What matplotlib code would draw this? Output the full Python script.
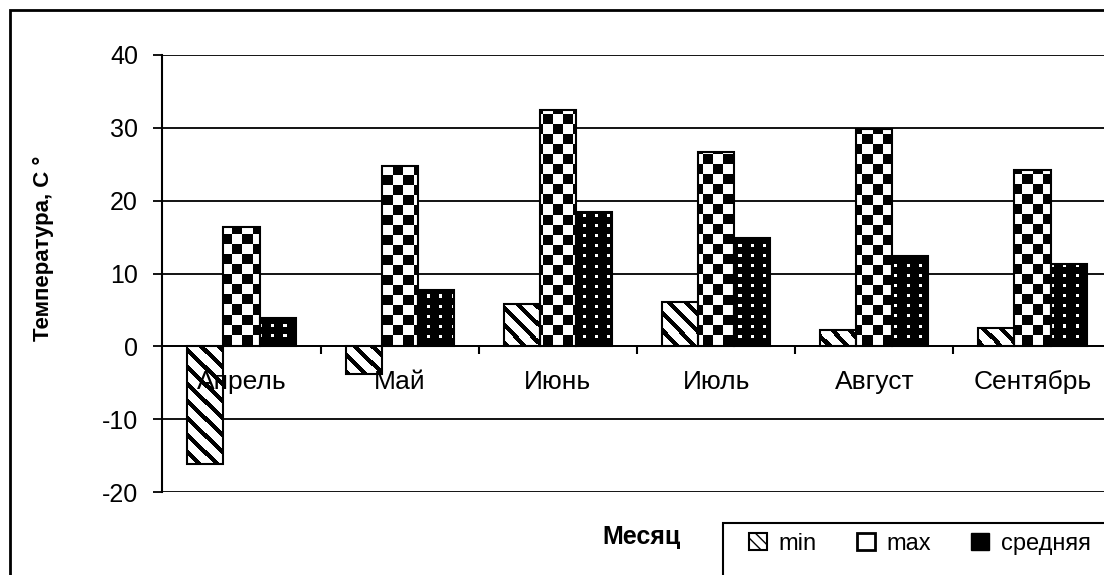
import numpy as np
import matplotlib
matplotlib.use("Agg")
import matplotlib.pyplot as plt
from matplotlib.patches import Patch, Rectangle

months = ["Апрель", "Май", "Июнь", "Июль", "Август", "Сентябрь"]
t_min = [-16.1, -3.8, 5.8, 6.1, 2.3, 2.5]
t_max = [16.4, 24.7, 32.5, 26.7, 29.9, 24.2]
t_avg = [3.9, 7.8, 18.5, 14.9, 12.4, 11.3]
series_names = ["min", "max", "средняя"]
yticks = [-20, -10, 0, 10, 20, 30, 40]

plt.rcParams["font.family"] = ["Liberation Sans", "DejaVu Sans"]
plt.rcParams["axes.unicode_minus"] = False

W, H, DPI = 1104, 575, 100
fig = plt.figure(figsize=(W / DPI, H / DPI), dpi=DPI)
ax_l, ax_b, ax_w, ax_h = 162.4 / W, 1 - 492 / H, 949.2 / W, 437 / H
ax = fig.add_axes([ax_l, ax_b, ax_w, ax_h])


def texture(kind, h, w):
    # black/white fill patterns like the old excel bar fills
    r, c = np.indices((h, w))
    if kind == "diag":
        black = ((c - r) % 17) < 6
    elif kind == "check":
        black = ((r // 10 + c // 10) % 2) == 0
    else:
        black = ~(((r % 10) < 3) & ((c % 12) < 3))
    return np.where(black, 0.0, 1.0)


tex_h, tex_w = int(ax_h * H), int(ax_w * W)
kinds = ["diag", "check", "dots"]
x = np.arange(len(months))
bw = 0.228

for i, vals in enumerate([t_min, t_max, t_avg]):
    bars = ax.bar(x + (i - 1) * bw, vals, bw, facecolor="none",
                  edgecolor="black", linewidth=1.5, zorder=3)
    tex = texture(kinds[i], tex_h, tex_w)
    for rect in bars:
        im = ax.imshow(tex, extent=(0, 1, 0, 1), transform=ax.transAxes,
                       cmap="gray", vmin=0, vmax=1, interpolation="nearest",
                       aspect="auto", zorder=2)
        im.set_clip_path(rect)

ax.set_xlim(-0.5, len(months) - 0.5)
ax.set_ylim(-20, 40)
ax.set_yticks(yticks)
ax.set_xticks(x)
ax.set_xticklabels(months)
ax.set_xticks(np.arange(0.5, len(months), 1), minor=True)

ax.set_axisbelow(True)
ax.yaxis.grid(True, color="black", linewidth=1.3)
ax.xaxis.set_zorder(5)

for s in ["top", "right"]:
    ax.spines[s].set_visible(False)
ax.spines["bottom"].set_position(("data", 0))
ax.spines["bottom"].set_linewidth(1.3)
ax.spines["left"].set_linewidth(1.5)

ax.tick_params(axis="x", which="major", length=0, pad=17, labelsize=19)
ax.tick_params(axis="x", which="minor", length=6, width=1.5, direction="out")
ax.tick_params(axis="y", length=6.5, width=1.3, direction="out", pad=11,
               labelsize=18)

fig.text(43 / W, 1 - 248 / H, "Температура, С °", rotation=90, fontsize=16,
         fontweight="bold", ha="center", va="center")
fig.text(641 / W, 1 - 537 / H, "Месяц", fontsize=18, fontweight="bold",
         ha="center", va="center")

# outer chart border and legend box run off the image edges
fig.patches.append(Rectangle((10 / W, -0.1), 1.2, 1 - 10 / H + 0.1, fill=False,
                             edgecolor="black", linewidth=2,
                             transform=fig.transFigure))
fig.patches.append(Rectangle((723 / W, -0.1), 0.5, (575 - 523) / H + 0.1,
                             fill=False, edgecolor="black", linewidth=1.5,
                             transform=fig.transFigure))

handles = [
    Patch(facecolor="white", edgecolor="black", linewidth=1.5, hatch="\\\\\\"),
    Patch(facecolor="white", edgecolor="black", linewidth=2),
    Patch(facecolor="black", edgecolor="black"),
]
fig.legend(handles, series_names, loc="center left",
           bbox_to_anchor=(728 / W, 1 - 544 / H), frameon=False, ncol=3,
           fontsize=17, handlelength=0.75, handleheight=0.75, handletextpad=0.5,
           columnspacing=1.7)

fig.savefig("out.png", dpi=DPI)
